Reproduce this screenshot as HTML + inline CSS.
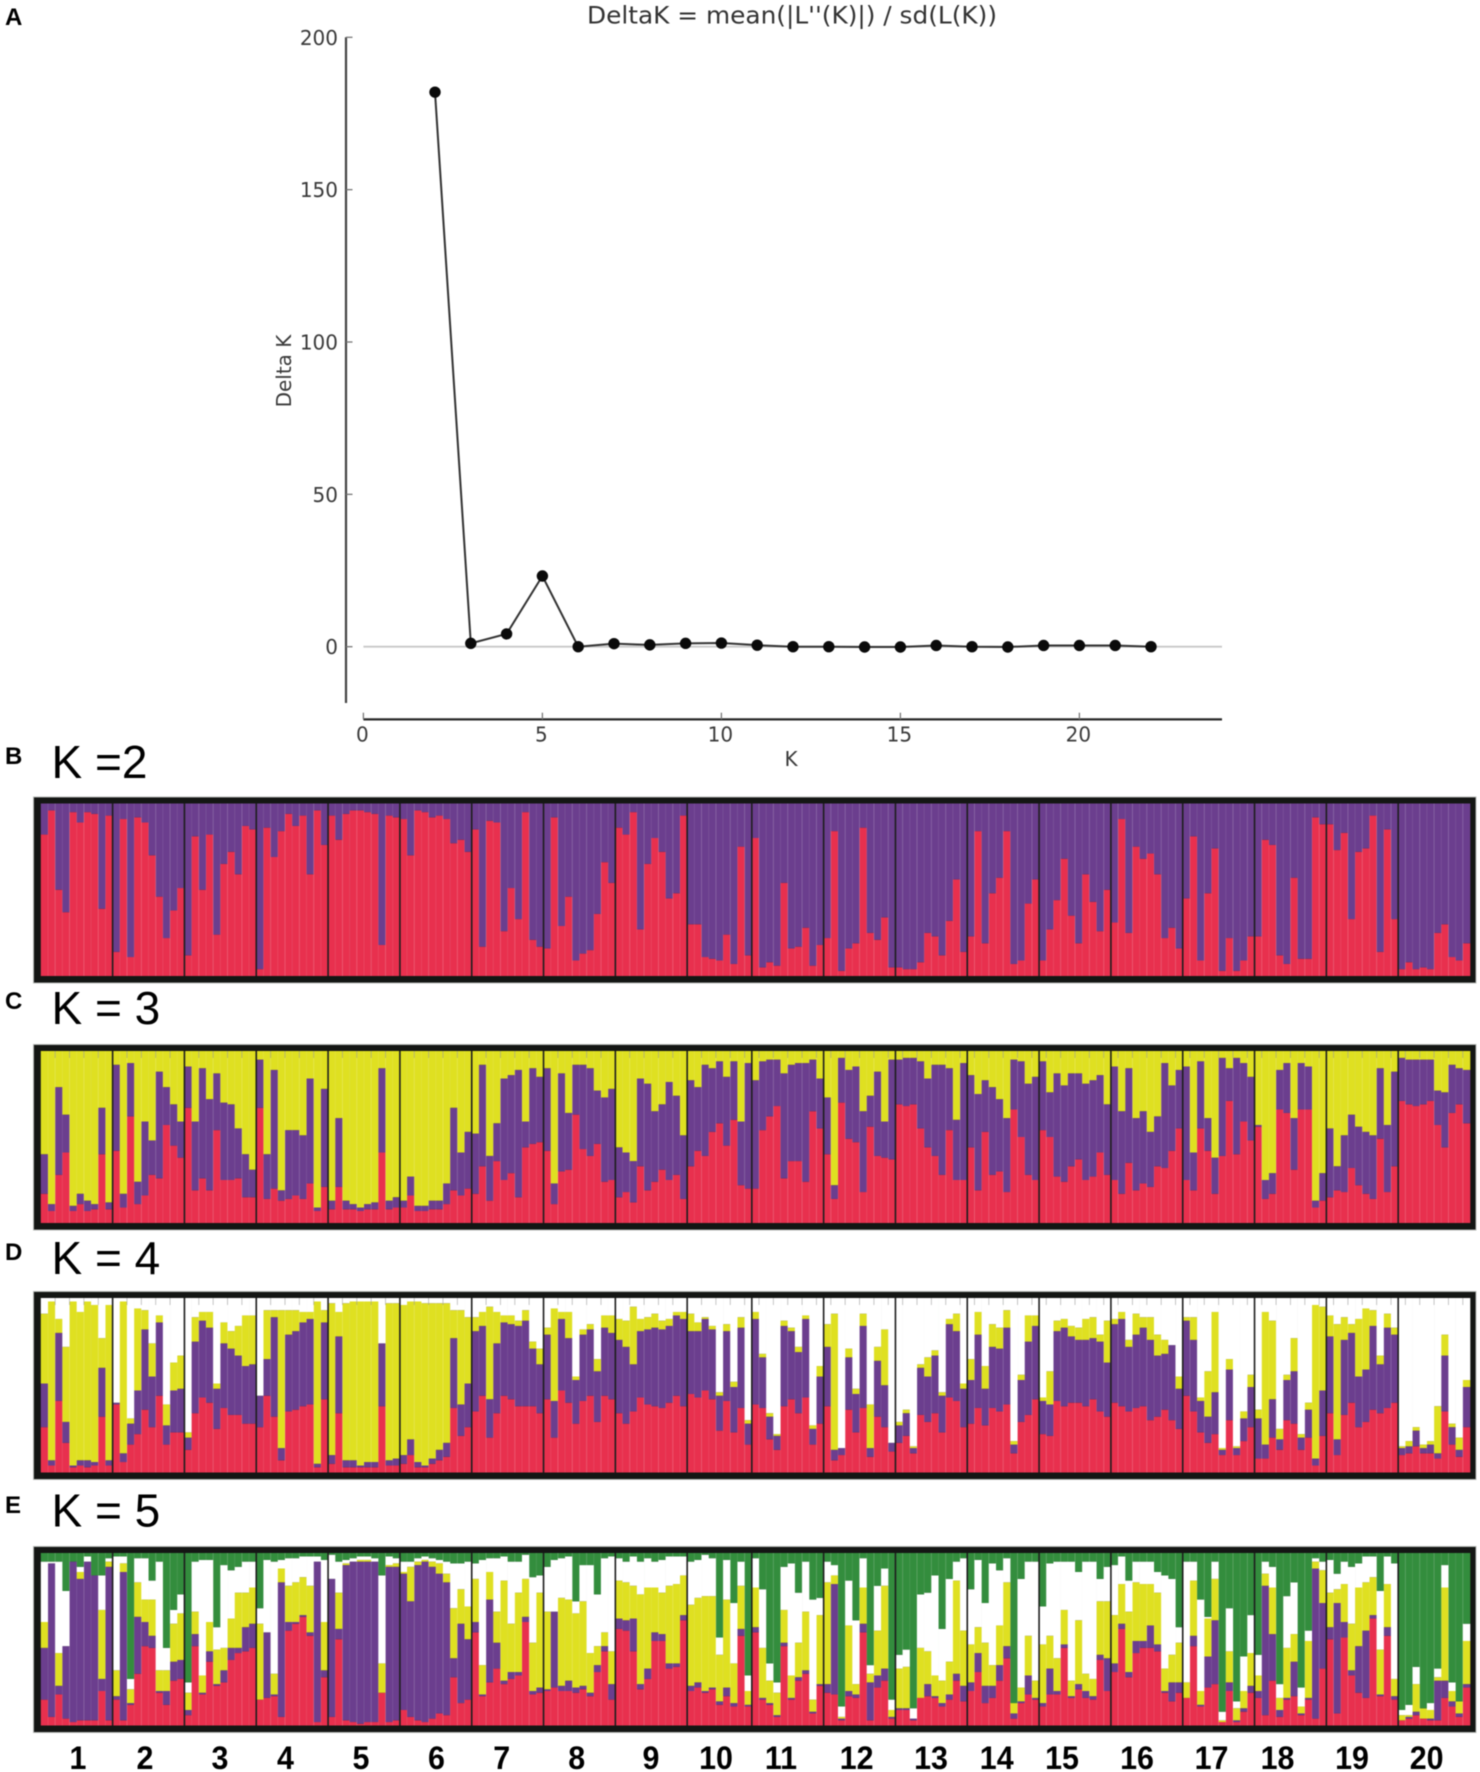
<!DOCTYPE html>
<html lang="en">
<head>
<meta charset="utf-8">
<title>DeltaK and population structure</title>
<style>
html,body{margin:0;padding:0;background:#fff;}
#figure{display:block;width:1480px;height:1772px;filter:blur(0.4px);}
</style>
</head>
<body>
<svg id="figure" xmlns="http://www.w3.org/2000/svg" width="1480" height="1772" viewBox="0 0 1480 1772"></svg>
<script>
/* ---------- Panel A data ---------- */
const kValues = [2,3,4,5,6,7,8,9,10,11,12,13,14,15,16,17,18,19,20,21,22];
const deltaK = [182,1.1,4.2,23.2,0,1,0.6,1.1,1.2,0.5,0,0,-0.1,-0.1,0.4,0,-0.1,0.4,0.4,0.4,0];
const xTicks = [0,5,10,15,20];
const yTicks = [0,50,100,150,200];

/* ---------- Populations ---------- */
const popLabels = ["1","2","3","4","5","6","7","8","9","10","11","12","13","14","15","16","17","18","19","20"];
const popSizes = [10,10,10,10,10,10,10,10,10,9,10,10,10,10,10,10,10,10,10,10];

/* ---------- K = 2: cumulative ancestry (%) per individual ---------- */
const k2Red = [
82,96,50,37,95,89,95,94,39,93,
14,91,11,92,89,70,46,22,38,51,
12,81,50,82,24,65,72,59,87,85,
4,86,69,84,94,87,93,59,96,76,
93,79,94,96,96,95,94,18,93,92,
91,70,96,95,92,93,91,77,79,72,
85,17,90,89,26,51,33,95,21,17,
16,92,29,46,9,13,15,36,66,54,
86,82,95,27,65,80,72,45,48,93,
30,30,11,10,9,24,7,75,12,
80,5,8,6,54,16,17,28,6,18,
22,84,3,16,19,86,25,21,34,5,
5,4,4,8,25,23,12,32,56,14,
23,84,19,48,57,84,7,9,42,56,
9,27,44,68,35,19,59,43,26,50,
31,91,25,75,68,71,59,22,28,16,
45,81,9,48,74,3,22,3,9,23,
23,79,76,12,7,57,10,10,92,88,
88,73,83,33,72,74,93,14,85,33,
4,8,4,5,4,25,30,11,9,19];

/* ---------- K = 3 ---------- */
const k3Red = [
17,7,28,41,7,11,7,8,40,8,
42,9,62,11,16,28,26,57,45,38,
67,19,26,19,54,25,25,26,15,15,
67,14,20,13,14,16,14,23,7,21,
8,21,8,8,7,8,8,41,8,9,
9,16,7,7,8,8,11,19,16,20,
17,33,13,36,25,29,15,44,46,47,
42,11,30,31,63,43,39,46,24,25,
15,18,12,33,19,24,31,25,28,14,
33,42,39,53,58,45,60,22,20,
20,54,62,68,26,36,36,24,65,55,
40,14,70,49,47,18,56,39,38,37,
69,68,69,55,44,39,28,54,25,25,
44,19,53,28,30,18,66,50,28,25,
54,50,27,24,33,37,25,27,41,28,
25,17,35,19,23,21,33,32,42,55,
25,19,55,42,17,39,71,40,59,48,
56,14,17,66,64,31,66,66,9,13,
15,19,18,32,22,17,14,49,18,33,
71,69,68,69,71,57,44,64,69,58];
const k3Purple = [
40,11,79,63,10,17,13,11,67,12,
92,17,93,24,59,48,88,79,69,59,
91,59,90,72,87,70,69,55,40,31,
95,40,89,19,54,54,51,84,9,78,
13,61,13,11,9,11,12,90,13,15,
13,27,10,10,13,13,23,67,41,53,
52,92,39,58,84,86,89,59,90,85,
90,23,87,64,92,92,90,77,73,78,
44,41,36,84,81,65,69,82,74,51,
83,79,92,90,94,85,94,59,93,
83,94,95,95,87,92,93,93,95,84,
73,22,96,89,91,65,74,88,59,95,
95,96,96,94,84,92,92,90,60,93,
86,75,83,79,72,61,95,94,81,85,
94,76,87,80,87,87,81,83,86,69,
91,65,90,61,65,53,62,93,80,89,
91,41,94,61,38,96,90,96,93,85,
57,25,29,89,93,61,93,91,13,29,
55,33,51,63,56,53,51,90,57,88,
96,95,95,95,95,77,76,92,90,89];

/* ---------- K = 4 ---------- */
const k4Red = [
26,4,41,17,3,4,3,4,32,4,
39,6,16,22,36,26,44,16,23,23,
13,34,43,40,25,37,33,33,28,28,
26,44,32,7,35,36,38,39,3,42,
5,34,3,3,3,3,3,38,4,4,
5,10,3,3,5,7,9,37,21,26,
35,44,20,34,44,42,38,38,38,34,
42,20,47,40,28,41,44,29,44,42,
34,28,35,43,39,38,37,40,44,38,
45,43,47,42,24,41,23,37,16,
39,37,19,13,38,42,34,43,16,28,
38,7,10,36,23,37,9,32,26,12,
17,21,11,33,29,34,23,43,41,26,
28,37,27,37,35,39,11,29,33,42,
22,21,41,38,40,40,38,42,35,32,
40,38,35,37,38,30,32,36,30,25,
44,35,23,17,22,10,30,10,18,26,
8,8,20,13,30,28,13,20,4,21,
34,10,33,40,26,29,36,34,37,40,
10,11,15,11,11,8,35,16,9,26];
const k4Purple = [
51,7,80,29,4,7,7,6,60,7,
40,11,28,47,82,55,86,27,47,48,
20,75,87,83,48,74,71,67,61,62,
44,65,89,14,79,81,86,88,5,86,
10,78,7,7,4,6,6,74,7,8,
10,19,6,4,8,13,17,77,39,51,
81,84,42,74,86,85,84,87,71,62,
79,41,88,77,53,79,82,58,83,80,
76,72,62,81,82,83,82,84,90,88,
81,81,88,82,44,81,49,83,28,
88,66,32,21,84,81,69,88,25,55,
72,13,14,66,45,84,14,64,50,17,
27,34,14,60,55,67,44,85,81,48,
53,79,48,72,71,83,16,53,75,84,
41,39,81,83,78,76,76,77,75,63,
85,88,72,79,83,76,67,68,73,48,
87,76,41,32,46,13,59,14,31,49,
31,16,42,19,53,58,20,36,8,47,
78,19,76,80,55,59,84,62,83,79,
14,15,24,14,16,11,67,26,13,49];
const k4Yellow = [
91,98,88,72,98,92,98,96,77,96,
40,98,31,94,93,74,90,39,63,67,
23,89,92,92,51,86,81,84,90,90,
44,93,93,93,93,93,92,92,98,93,
97,92,97,98,98,98,98,74,97,97,
96,98,98,97,97,97,97,93,93,89,
89,92,95,92,90,90,87,93,75,71,
83,94,92,92,55,82,85,65,90,90,
88,87,95,88,89,91,87,88,92,92,
91,86,89,84,46,85,52,89,30,
92,68,34,22,87,83,72,90,27,61,
85,91,14,71,48,91,39,72,82,17,
29,36,15,62,66,70,46,88,91,51,
65,92,61,85,83,93,18,56,90,90,
43,58,87,88,84,83,88,89,79,87,
88,92,76,91,89,89,79,76,73,55,
89,89,43,58,92,14,65,15,35,56,
36,92,87,25,56,77,22,40,96,95,
90,85,89,85,88,94,93,67,91,83,
15,18,26,16,18,38,79,28,20,53];

/* ---------- K = 5 ---------- */
const k5Red = [
15,5,18,4,2,3,3,3,20,3,
15,3,12,30,46,45,19,12,26,27,
6,46,18,37,23,25,38,42,43,45,
15,16,17,5,55,59,63,52,2,28,
5,50,3,2,1,2,2,19,2,3,
9,5,3,2,4,7,6,28,13,15,
54,17,25,33,24,27,29,60,18,19,
20,22,20,20,19,21,17,31,43,15,
56,55,43,21,27,49,49,33,34,61,
20,22,19,21,12,17,11,52,11,
54,15,12,5,46,15,26,30,7,23,
19,18,3,17,16,54,3,22,26,4,
9,9,3,16,17,16,11,15,26,14,
20,31,13,16,26,39,4,13,18,15,
11,18,18,45,16,21,16,15,38,20,
31,56,28,42,45,45,43,19,14,19,
16,46,11,22,24,2,20,2,8,19,
16,6,26,5,15,17,6,15,4,33,
50,7,51,29,19,16,62,17,52,15,
3,4,6,4,3,3,16,11,5,22];
const k5Purple = [
45,94,23,46,95,85,95,87,27,92,
17,89,13,63,60,52,20,20,37,38,
9,53,19,43,24,32,45,45,57,59,
15,54,18,83,60,60,64,54,95,32,
85,56,93,95,95,95,95,19,92,92,
88,72,93,95,92,88,83,39,59,50,
60,18,73,48,26,31,31,63,20,22,
21,66,23,26,22,23,19,35,46,24,
62,61,62,24,33,54,53,36,36,64,
23,25,20,22,14,22,13,56,12,
57,16,13,6,48,16,28,32,8,24,
24,82,4,20,18,59,25,29,33,5,
10,10,4,16,24,17,13,18,30,23,
25,42,23,23,35,46,7,14,29,16,
13,33,20,47,17,24,20,17,41,39,
36,59,31,49,49,58,47,20,25,25,
16,52,12,40,61,2,25,3,10,23,
20,81,53,9,16,37,7,16,91,71,
57,71,60,32,46,55,64,18,57,17,
3,5,8,4,4,26,26,14,7,24];
const k5Yellow = [
60,94,42,46,95,89,95,87,67,95,
32,94,21,83,73,73,32,32,59,65,
19,66,29,60,44,45,62,77,77,80,
59,54,30,91,81,83,86,81,95,60,
85,77,94,95,96,96,95,36,93,94,
89,92,95,96,95,94,88,68,79,69,
85,35,89,66,84,59,77,85,48,77,
66,66,74,73,65,72,42,46,54,43,
84,83,81,76,80,80,77,81,82,87,
70,74,75,75,41,73,36,81,20,
80,45,26,19,67,29,48,66,15,64,
83,87,5,58,24,80,30,55,81,9,
33,34,4,45,43,29,26,37,84,55,
47,57,48,35,58,83,13,22,52,26,
47,52,39,67,26,61,30,27,72,72,
64,82,66,83,82,82,77,33,41,48,
25,84,20,62,85,3,43,10,20,42,
29,88,80,16,45,53,11,49,95,90,
77,79,82,59,80,83,86,44,82,27,
6,6,24,10,9,28,80,20,14,49];
const k5White = [
95,95,95,78,95,92,98,87,87,97,
98,98,27,97,97,84,95,45,67,76,
25,95,96,96,57,93,90,92,95,95,
68,96,95,96,97,97,98,98,98,96,
99,95,96,97,98,98,97,87,98,97,
95,95,97,98,97,96,95,94,94,95,
94,96,97,97,98,95,95,99,86,87,
92,96,97,98,72,93,93,76,97,98,
97,95,98,95,97,95,96,98,98,98,
95,96,99,97,51,96,71,95,29,
97,79,36,25,92,94,77,95,73,74,
95,93,11,84,61,97,35,81,91,15,
41,44,10,76,77,87,56,85,95,97,
79,96,71,94,90,97,13,85,95,95,
69,94,95,95,95,89,95,95,85,92,
93,98,84,95,95,95,89,87,85,57,
95,95,73,63,95,8,68,14,40,64,
41,95,92,24,75,83,22,55,97,95,
96,88,95,92,94,98,98,78,98,94,
9,12,34,10,13,33,93,25,14,59];

/* ---------- Drawing ---------- */
const SVG_NS = "http://www.w3.org/2000/svg";
const fig = document.getElementById("figure");
const SANS = '"Liberation Sans", Arial, sans-serif';
const PLOT = '"DejaVu Sans", Verdana, sans-serif';

function addRect(x, y, w, h, fill, parent) {
  const r = document.createElementNS(SVG_NS, "rect");
  r.setAttribute("x", x);
  r.setAttribute("y", y);
  r.setAttribute("width", w);
  r.setAttribute("height", h);
  r.setAttribute("fill", fill);
  (parent || fig).appendChild(r);
  return r;
}
function addLine(x1, y1, x2, y2, stroke, sw, parent) {
  const l = document.createElementNS(SVG_NS, "line");
  l.setAttribute("x1", x1);
  l.setAttribute("y1", y1);
  l.setAttribute("x2", x2);
  l.setAttribute("y2", y2);
  l.setAttribute("stroke", stroke);
  l.setAttribute("stroke-width", sw);
  (parent || fig).appendChild(l);
  return l;
}
function addText(str, x, y, size, family, weight, fill, anchor, parent) {
  const t = document.createElementNS(SVG_NS, "text");
  t.setAttribute("x", x);
  t.setAttribute("y", y);
  t.setAttribute("font-size", size);
  t.setAttribute("font-family", family);
  t.setAttribute("font-weight", weight);
  t.setAttribute("fill", fill);
  t.setAttribute("text-anchor", anchor);
  t.textContent = str;
  (parent || fig).appendChild(t);
  return t;
}
function addGroup(parent) {
  const g = document.createElementNS(SVG_NS, "g");
  (parent || fig).appendChild(g);
  return g;
}

/* Panel A axis functions */
const xScale = k => 363.4 + k * 35.8;
const yScale = v => 646.7 - v * 3.047;

const lineChart = addGroup();



const chartTitle = addText("DeltaK = mean(|L''(K)|) / sd(L(K))", 792, 23.5, 24, PLOT, "normal", "#333", "middle", lineChart);
chartTitle.setAttribute("textLength", "410");
chartTitle.setAttribute("lengthAdjust", "spacingAndGlyphs");



const zeroLine = addLine(363.4, yScale(0), 1222, yScale(0), "#c8c8c8", 1.8, lineChart);



const ySpine = addLine(346, yScale(200), 346, 703, "#444", 2.2, lineChart);



const xSpine = addLine(363.4, 719.4, 1222, 719.4, "#2a2a2a", 2.2, lineChart);



yTicks.forEach(v => {
  const tick = addLine(346, yScale(v), 352.5, yScale(v), "#777", 1.3, lineChart);
  
  
  const label = addText(String(v), 338, yScale(v) + 7.5, 20, PLOT, "normal", "#3a3a3a", "end", lineChart);
  
  
});
xTicks.forEach(v => {
  const tick = addLine(xScale(v), 712.7, xScale(v), 719.4, "#777", 1.3, lineChart);
  
  
  const label = addText(String(v), xScale(v) - 1, 741.7, 20, PLOT, "normal", "#3a3a3a", "middle", lineChart);
  
  
});

const xTitle = addText("K", 791, 766, 20, PLOT, "normal", "#3a3a3a", "middle", lineChart);



const yTitle = addText("Delta K", 0, 0, 20, PLOT, "normal", "#3a3a3a", "middle", lineChart);
yTitle.setAttribute("transform", "translate(291,371) rotate(-90)");



const deltaLine = document.createElementNS(SVG_NS, "polyline");
deltaLine.setAttribute("points", kValues.map((k, i) => xScale(k) + "," + yScale(deltaK[i])).join(" "));
deltaLine.setAttribute("fill", "none");
deltaLine.setAttribute("stroke", "#333");
deltaLine.setAttribute("stroke-width", "2");


lineChart.appendChild(deltaLine);

kValues.forEach((k, i) => {
  const dot = document.createElementNS(SVG_NS, "circle");
  dot.setAttribute("cx", xScale(k));
  dot.setAttribute("cy", yScale(deltaK[i]));
  dot.setAttribute("r", 5.7);
  dot.setAttribute("fill", "#0a0a0a");
  
  
  lineChart.appendChild(dot);
});

/* Panels B–E */
const RED = "#e8304e", PURPLE = "#6b3e8e", YELLOW = "#dfe021", GREEN = "#338d3d", WHITE = "#ffffff";
const BAR_X0 = 40.8, BAR_X1 = 1470;
const totalBars = popSizes.reduce((a, b) => a + b, 0);
const barX = i => BAR_X0 + i * (BAR_X1 - BAR_X0) / totalBars;

function drawPanel(name, innerTop, innerBottom, series, colours, topColour, topTicks) {
  const g = addGroup();
  
  
  const frame = addRect(33.5, innerTop - 6.5, 1442.5, innerBottom - innerTop + 13.5, "#141614", g);
  frame.setAttribute("stroke", "#b5b8b5");
  frame.setAttribute("stroke-width", "1");
  
  
  const yQ = q => innerBottom - q / 100 * (innerBottom - innerTop);
  const bw = (BAR_X1 - BAR_X0) / totalBars;
  for (let i = 0; i < totalBars; i++) {
    let prev = 0;
    series.forEach((s, si) => {
      const cur = Math.max(prev, s[i]);
      if (cur > prev) {
        const seg = addRect(barX(i), yQ(cur), bw + 0.3, yQ(prev) - yQ(cur), colours[si], g);
        
        
      }
      prev = cur;
    });
    const top = addRect(barX(i), innerTop, bw + 0.3, yQ(prev) - innerTop, topColour, g);
    
    
    if (i > 0) {
      const hair = addLine(barX(i), innerTop, barX(i), innerBottom, "#ffffff", 0.9, g);
      hair.setAttribute("stroke-opacity", i % 2 ? "0.1" : "0.2");
      
      
      if (topTicks && i % 2 === 0) {
        const tt = addLine(barX(i), innerTop, barX(i), innerTop + 7, "#8a8a8a", 0.9, g);
        tt.setAttribute("stroke-opacity", "0.55");
        
        
      }
    }
  }
  let cum = 0;
  popSizes.forEach((n, p) => {
    cum += n;
    if (p < popSizes.length - 1) {
      const sep = addLine(barX(cum), innerTop, barX(cum), innerBottom, "#1e1e1e", 1.6, g);
      
      
    }
  });
}

drawPanel("structure-plot-k2", 803.5, 976, [k2Red], [RED], PURPLE, false);
drawPanel("structure-plot-k3", 1051, 1223, [k3Red, k3Purple], [RED, PURPLE], YELLOW, true);
drawPanel("structure-plot-k4", 1298, 1472.5, [k4Red, k4Purple, k4Yellow], [RED, PURPLE, YELLOW], WHITE, true);
drawPanel("structure-plot-k5", 1553, 1725.5, [k5Red, k5Purple, k5Yellow, k5White], [RED, PURPLE, YELLOW, WHITE], GREEN, false);

/* Panel letters and K titles */
const panelLetters = ["A", "B", "C", "D", "E"];
const panelLetterY = [25, 764, 1009, 1260, 1513];
panelLetters.forEach((s, i) => {
  const t = addText(s, 5, panelLetterY[i], 24, SANS, "bold", "#000", "start");
  
  
});
const kTitles = ["K =2", "K = 3", "K = 4", "K = 5"];
const kTitleY = [778, 1024, 1274, 1526.7];
kTitles.forEach((s, i) => {
  const t = addText(s, 51.5, kTitleY[i], 46, SANS, "normal", "#000", "start");
  
  
});

/* Population labels along the bottom */
const popLabelCenters = [78,145,220,285.5,361,436.5,501.7,576.7,651,716,781,856.6,931,996.7,1062,1137,1211.5,1277.5,1352,1426.6];
popLabels.forEach((s, i) => {
  const t = addText(s, 0, 0, 32, SANS, "bold", "#000", "middle");
  t.setAttribute("transform", "translate(" + popLabelCenters[i] + ",1769) scale(0.95,1)");
  
  
});
</script>
</body>
</html>
